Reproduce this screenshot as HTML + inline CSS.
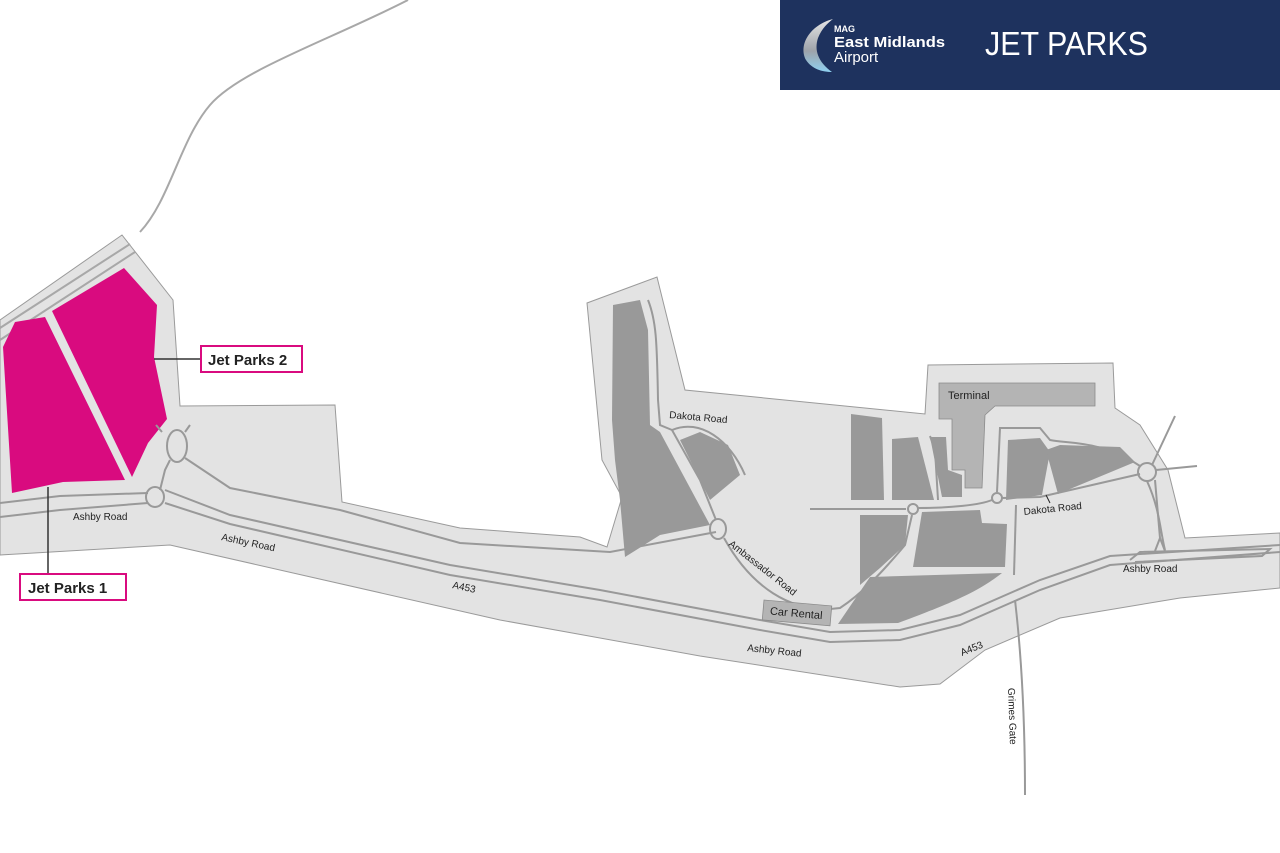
<!DOCTYPE html>
<html><head><meta charset="utf-8"><style>
html,body{margin:0;padding:0;background:#fff;}
body{width:1280px;height:853px;overflow:hidden;position:relative;font-family:"Liberation Sans",sans-serif;}
svg{position:absolute;left:0;top:0;}
.hdr{position:absolute;left:780px;top:0;width:500px;height:90px;background:#1e325e;}
</style></head><body>
<svg width="1280" height="853" viewBox="0 0 1280 853">
<!-- northern road -->
<path d="M408,0 C330,40 240,70 210,105 C180,140 170,200 140,232" fill="none" stroke="#a8a8a8" stroke-width="2"/>
<!-- base area -->
<path d="M0,320 L122,235 L173,300 L180,406 L335,405 L342,502 L460,528 L580,537 L607,547 L622,497 L602,460 L587,303 L657,277 L685,390 L925,414 L928,365 L1113,363 L1115,408 L1140,425 L1168,470 L1185,538 L1280,533 L1280,588 L1180,598 L1060,618 L985,650 L940,684 L900,687 L700,656 L500,620 L170,545 L0,555 Z" fill="#e3e3e3" stroke="#9a9a9a" stroke-width="1"/>
<!-- road in top band -->
<path d="M0,328 L130,244" stroke="#a8a8a8" stroke-width="2" fill="none"/>
<path d="M0,340 L135,252" stroke="#a8a8a8" stroke-width="2" fill="none"/>
<!-- magenta parks -->
<path d="M3,347 L15,322 L45,317 L125,480 L63,482 L12,493 Z" fill="#d90b7f"/>
<path d="M52,311 L124,268 L157,305 L154,357 L167,419 L148,443 L132,477 Z" fill="#d90b7f"/>
<!-- roads west -->
<g fill="none" stroke="#999" stroke-width="2">
<path d="M0,503 L60,496 L148,493"/>
<path d="M0,517 L60,510 L148,503"/>
<ellipse cx="155" cy="497" rx="9" ry="10"/>
<ellipse cx="177" cy="446" rx="10" ry="16"/>
<path d="M160,490 L165,470 L170,460"/>
<path d="M162,432 L156,425"/>
<path d="M185,432 L190,425"/>
<path d="M165,503 L230,524 L450,575 L600,600 L760,630 L830,642 L900,640 L960,625 L1040,590 L1110,565 L1280,552"/>
<path d="M165,490 L230,515 L450,565 L600,590 L760,620 L830,632 L900,630 L960,615 L1040,580 L1110,556 L1280,545"/>
<path d="M185,458 L230,488 L340,510 L460,543 L610,552 L716,532"/>
<path d="M1130,560 L1140,552 L1270,549 L1262,556 L1135,562"/>
<path d="M1155,551 L1160,538 L1165,551 M1160,538 L1155,480"/>
<!-- Dakota/Ambassador roads -->
<path d="M648,300 C656,320 657,340 658,400 L660,425 L672,430 L700,480 L716,520"/>
<path d="M672,430 C700,418 730,440 745,475"/>
<ellipse cx="718" cy="529" rx="8" ry="10"/>
<path d="M724,538 C750,585 790,615 840,608 C860,595 880,575 905,545 L912,515"/>
<path d="M810,509 L906,509"/>
<circle cx="913" cy="509" r="5"/>
<path d="M918,508 C950,508 980,505 992,500"/>
<circle cx="997" cy="498" r="5"/>
<path d="M1002,498 L1040,497 L1140,474"/>
<circle cx="1147" cy="472" r="9"/>
<path d="M1152,465 L1175,416 M1156,470 L1197,466 M1147,481 C1160,510 1160,530 1165,550"/>
<path d="M1140,466 C1100,440 1070,444 1050,440 L1040,428 L1000,428 L997,492"/>
<path d="M1016,505 L1014,575"/>
<path d="M1015,600 C1022,660 1025,720 1025,795"/>
<path d="M930,436 L935,450 L938,500"/>
</g>
<!-- dark blocks -->
<g fill="#999">
<path d="M613,305 L640,300 L648,330 L650,425 L660,432 L710,525 L660,535 L625,557 L620,500 L615,460 L612,420 Z"/>
<path d="M680,440 L700,432 L728,445 L740,475 L710,500 Z"/>
<path d="M851,414 L882,418 L884,500 L851,500 Z"/>
<path d="M892,439 L918,437 L934,500 L892,500 Z"/>
<path d="M930,437 L946,437 L948,470 L962,475 L962,497 L942,497 Z"/>
<path d="M860,515 L908,515 L905,545 L880,568 L860,585 Z"/>
<path d="M922,512 L980,510 L982,523 L1007,524 L1005,567 L913,567 Z"/>
<path d="M870,577 L1002,573 C980,590 960,600 898,623 L838,624 Z"/>
<path d="M1008,440 L1040,438 L1050,452 L1042,495 L1006,500 Z"/>
<path d="M1046,450 L1060,445 L1120,447 L1135,462 L1058,494 Z"/>
</g>
<!-- terminal -->
<path d="M939,383 L1095,383 L1095,406 L995,406 L985,415 L982,488 L965,488 L965,470 L952,470 L952,419 L939,419 Z" fill="#b4b4b4" stroke="#8a8a8a" stroke-width="0.8"/>
<text x="948" y="399" font-size="11" fill="#222">Terminal</text>
<!-- car rental -->
<g transform="translate(764,600) rotate(5)"><rect x="0" y="0" width="68" height="20" fill="#b4b4b4" stroke="#8a8a8a" stroke-width="0.8"/><text x="7" y="14" font-size="11" fill="#222">Car Rental</text></g>
<!-- labels -->
<g font-size="10" fill="#222">
<text x="73" y="520">Ashby Road</text>
<text transform="translate(221,540) rotate(12)">Ashby Road</text>
<text transform="translate(452,588) rotate(12)">A453</text>
<text transform="translate(747,651) rotate(6)">Ashby Road</text>
<text transform="translate(962,656) rotate(-22)">A453</text>
<text x="1123" y="572">Ashby Road</text>
<text transform="translate(1024,515) rotate(-6)">Dakota Road</text>
<text transform="translate(669,418) rotate(5)">Dakota Road</text>
<text transform="translate(728,545) rotate(38)">Ambassador Road</text>
<text transform="translate(1008,688) rotate(88)">Grimes Gate</text>
</g>
<line x1="1046" y1="495" x2="1050" y2="503" stroke="#222" stroke-width="1"/>
<!-- callouts -->
<line x1="154" y1="359" x2="201" y2="359" stroke="#333" stroke-width="1.5"/>
<rect x="201" y="346" width="101" height="26" fill="#fff" stroke="#d90b7f" stroke-width="2"/>
<text x="208" y="365" font-size="15" font-weight="bold" fill="#222">Jet Parks 2</text>
<line x1="48" y1="487" x2="48" y2="574" stroke="#333" stroke-width="1.5"/>
<rect x="20" y="574" width="106" height="26" fill="#fff" stroke="#d90b7f" stroke-width="2"/>
<text x="28" y="593" font-size="15" font-weight="bold" fill="#222">Jet Parks 1</text>
</svg>
<div class="hdr">
<svg width="500" height="90" viewBox="0 0 500 90" style="position:absolute;left:0;top:0">
<defs><linearGradient id="g" x1="0" y1="0" x2="0" y2="1"><stop offset="0" stop-color="#e6e6e6"/><stop offset="0.6" stop-color="#9ea3aa"/><stop offset="1" stop-color="#8fd0f0"/></linearGradient></defs>
<path d="M53,19 C30,25 18,45 26,60 C32,69 42,72 52,72 C38,62 34,50 38,38 C42,28 48,23 53,19 Z" fill="url(#g)"/>
<text x="54" y="32" font-size="9" font-weight="bold" fill="#fff">MAG</text>
<text x="54" y="47" font-size="15" font-weight="bold" fill="#fff" textLength="111" lengthAdjust="spacingAndGlyphs">East Midlands</text>
<text x="54" y="62" font-size="15" fill="#fff">Airport</text>
<text x="205" y="55" font-size="33" fill="#fff" textLength="163" lengthAdjust="spacingAndGlyphs">JET PARKS</text>
</svg>
</div>
</body></html>
